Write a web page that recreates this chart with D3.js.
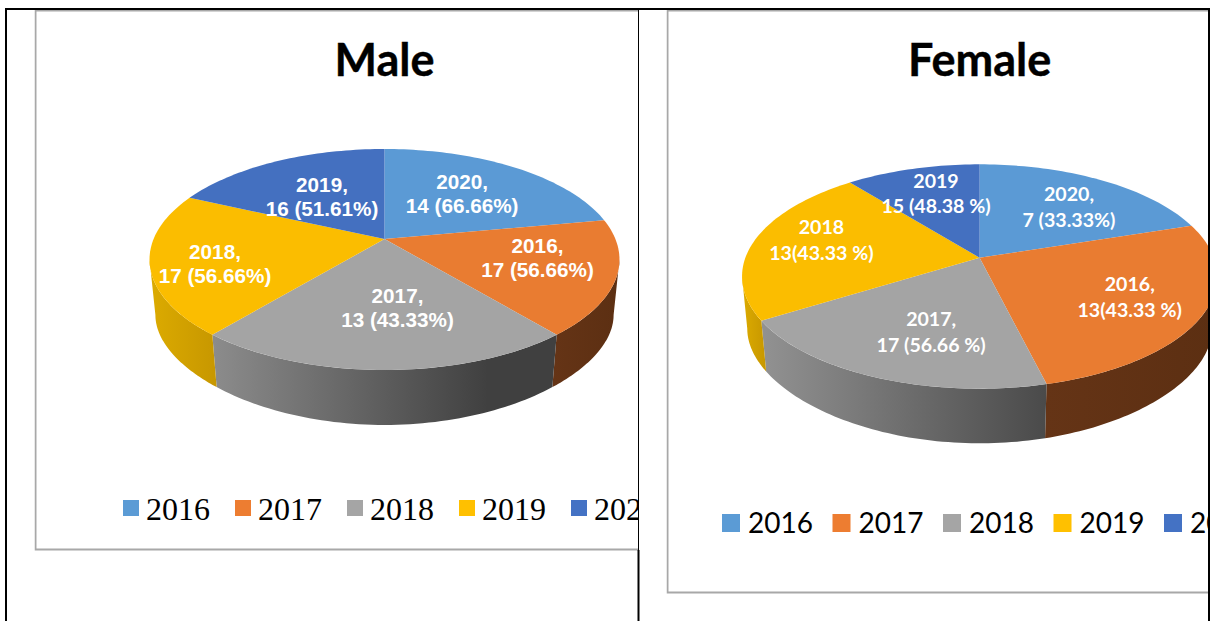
<!DOCTYPE html>
<html>
<head>
<meta charset="utf-8">
<script src="https://cdn.jsdelivr.net/npm/d3@7"></script>
<style>
html, body { margin: 0; padding: 0; background: #fff; overflow: hidden; }
svg { display: block; }
</style>
</head>
<body>
<div id="chart"></div>
<script>
// values, legend order
var years = ["2016", "2017", "2018", "2019", "2020"];
var maleValues = [17, 13, 17, 16, 14];
var femaleValues = [13, 17, 13, 15, 7];

// data labels as printed on the slices (same order as the values)
var maleLabels = [
    ["2020,", "14 (66.66%)"],
    ["2016,", "17 (56.66%)"],
    ["2017,", "13 (43.33%)"],
    ["2018,", "17 (56.66%)"],
    ["2019,", "16 (51.61%)"]
];
var femaleLabels = [
    ["2020,", "7 (33.33%)"],
    ["2016,", "13(43.33 %)"],
    ["2017,", "17 (56.66 %)"],
    ["2018", "13(43.33 %)"],
    ["2019", "15 (48.38 %)"]
];

var colors = ["#5b9bd5", "#ed7d31", "#a5a5a5", "#ffc000", "#4472c4"];
var topColors = ["#5b9ad5", "#e97c31", "#a4a4a4", "#fbbd00", "#4470c0"];

var width = 1210, height = 621;

var svg = d3.select("#chart").append("svg")
    .attr("width", width)
    .attr("height", height);
var defs = svg.append("defs");

var male = {
    id: "male", title: "Male", values: maleValues, labels: maleLabels,
    cx: 384.5, cy: 239, a: 230.9, b: 106.7, p: 0.1855,
    cy2: 297, b2: 91.6, p2: 0.284, shrink: 0.975,
    walls: [null, ["#653416", "#5c2f12", 1], ["#8c8c8c", "#404040", 0.8], ["#dcab00", "#c79700", 1], null],
    nudge: [[-4, 0], [17.6, -4], [13, -3.5], [-31, 10], [6, 7]],
    titleY: 76, titleFont: "Lato", titleSize: 45,
    labelFont: "'Liberation Sans'", labelSize: 20.7, labelGap: 24.5,
    frame: [35.5, 10.5, 638, 549.5],
    legendX: [123, 571], swatch: 16, swatchY: 500, legendY: 520, legendGap: 7,
    legendFont: "'Liberation Serif'", legendSize: 32
};
var female = {
    id: "female", title: "Female", values: femaleValues, labels: femaleLabels,
    cx: 979.6, cy: 257.7, a: 234.2, b: 109, p: 0.1676,
    cy2: 311.4, b2: 98.9, p2: 0.25, shrink: 0.978,
    walls: [null, ["#653416", "#5c2f12", 1], ["#929292", "#4a4a4a", 1], ["#dcab00", "#c79700", 1], null],
    nudge: [[13, -2], [21, 6], [10, 7.5], [-22, -7], [-1, -8]],
    titleY: 76, titleFont: "Lato", titleSize: 45,
    labelFont: "Lato", labelSize: 19.6, labelGap: 25.5,
    frame: [667.5, 10.5, 1208, 592.5],
    legendX: [722, 1164], swatch: 18, swatchY: 514, legendY: 532.5, legendGap: 8,
    legendFont: "Lato", legendSize: 28
};

var line = d3.line();

function drawChart(c) {
    var clipId = "clip-" + c.id;
    defs.append("clipPath").attr("id", clipId).append("rect")
        .attr("x", c.frame[0] - 1).attr("y", 0)
        .attr("width", c.frame[2] - c.frame[0] + 1).attr("height", height);

    var g = svg.append("g").attr("clip-path", "url(#" + clipId + ")");

    // chart area border, only top, left and bottom show
    g.append("path")
        .attr("d", line([[c.frame[2], c.frame[1]], [c.frame[0], c.frame[1]], [c.frame[0], c.frame[3]], [c.frame[2], c.frame[3]]]))
        .attr("fill", "none").attr("stroke", "#a8a8a8").attr("stroke-width", 2);

    g.append("text")
        .attr("x", c.cx).attr("y", c.titleY)
        .attr("text-anchor", "middle")
        .attr("font-family", c.titleFont).attr("font-weight", 700)
        .attr("font-size", c.titleSize).attr("fill", "#000")
        .attr("stroke", "#000").attr("stroke-width", 0.4)
        .text(c.title);

    // the tilted disc, a perspective view of a circle
    function rim(angle, r) {
        var u = r * Math.sin(angle), v = r * Math.cos(angle), w = 1 + c.p * v;
        return [c.cx + c.a * u / w, c.cy - c.b * v / w];
    }
    // lower edge of the wall, seen a bit steeper than the top
    function rimLow(angle) {
        var u = Math.sin(angle), v = Math.cos(angle);
        return [c.cx + c.shrink * c.a * u / (1 + c.p * v), c.cy2 - c.b2 * v / (1 + c.p2 * v)];
    }

    var arcs = d3.pie().sort(null).value(function(d) { return d; })(c.values);

    // side wall is visible between the two tangents of the rim
    var tangent = Math.asin(c.p);
    var wallStart = Math.PI / 2 + tangent, wallEnd = 3 * Math.PI / 2 - tangent;

    arcs.forEach(function(d, i) {
        var from = Math.max(d.startAngle, wallStart), to = Math.min(d.endAngle, wallEnd);
        if (from >= to) return;
        var angles = d3.range(0, 61).map(function(k) { return from + (to - from) * k / 60; });
        var upper = angles.map(function(t) { return rim(t, 1); });
        var lower = angles.map(rimLow).reverse();
        var xs = upper.concat(lower).map(function(q) { return q[0]; });
        var x0 = d3.min(xs), x1 = d3.max(xs);

        var gradId = "wall-" + c.id + "-" + i;
        var grad = defs.append("linearGradient").attr("id", gradId)
            .attr("gradientUnits", "userSpaceOnUse")
            .attr("x1", x0).attr("x2", x0 + (x1 - x0) * c.walls[i][2])
            .attr("y1", 0).attr("y2", 0);
        grad.append("stop").attr("offset", 0).attr("stop-color", c.walls[i][0]);
        grad.append("stop").attr("offset", 1).attr("stop-color", c.walls[i][1]);

        g.append("path")
            .attr("d", line(upper.concat(lower)) + "Z")
            .attr("fill", "url(#" + gradId + ")");
    });

    arcs.forEach(function(d, i) {
        var n = Math.ceil((d.endAngle - d.startAngle) * 40);
        var pts = [[c.cx, c.cy]];
        d3.range(0, n + 1).forEach(function(k) {
            pts.push(rim(d.startAngle + (d.endAngle - d.startAngle) * k / n, 1));
        });
        g.append("path")
            .attr("d", line(pts) + "Z")
            .attr("fill", topColors[i]);
    });

    arcs.forEach(function(d, i) {
        var mid = rim((d.startAngle + d.endAngle) / 2, 0.6);
        var x = mid[0] + c.nudge[i][0], y = mid[1] + c.nudge[i][1];
        var text = g.append("text")
            .attr("text-anchor", "middle")
            .attr("font-family", c.labelFont).attr("font-weight", 700)
            .attr("font-size", c.labelSize).attr("fill", "#fff");
        c.labels[i].forEach(function(s, j) {
            text.append("tspan")
                .attr("x", x)
                .attr("y", y + (j - 0.5) * c.labelGap + c.labelSize * 0.36)
                .text(s);
        });
    });

    // legend
    var legendScale = d3.scalePoint().domain(years).range(c.legendX);
    var items = g.selectAll(".legend").data(years).enter().append("g")
        .attr("class", "legend");
    items.append("rect")
        .attr("x", function(d) { return legendScale(d); })
        .attr("y", c.swatchY)
        .attr("width", c.swatch).attr("height", c.swatch)
        .attr("fill", function(d, i) { return colors[i]; });
    items.append("text")
        .attr("x", function(d) { return legendScale(d) + c.swatch + c.legendGap; })
        .attr("y", c.legendY)
        .attr("font-family", c.legendFont).attr("font-size", c.legendSize)
        .attr("fill", "#000")
        .text(function(d) { return d; });
}

drawChart(male);
drawChart(female);

// page table lines around the two charts
var rules = [
    [[5, 9], [1210, 9], 2],
    [[6, 9], [6, height], 2],
    [[638.5, 9], [638.5, 550], 1],
    [[638.5, 550], [638.5, height], 2],
    [[1209, 9], [1209, height], 2]
];
rules.forEach(function(r) {
    svg.append("path")
        .attr("d", line([r[0], r[1]]))
        .attr("stroke", "#000").attr("stroke-width", r[2]).attr("fill", "none");
});
</script>
</body>
</html>
